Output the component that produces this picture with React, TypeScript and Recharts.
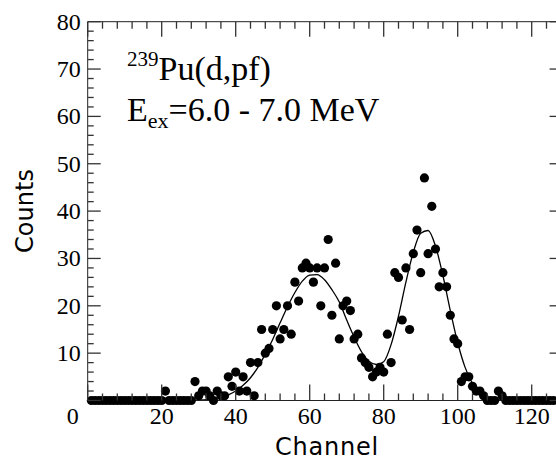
import React from "react"
import { ComposedChart, Scatter, Line, XAxis, YAxis } from "recharts"

// counts per channel, starting at channel 1
const counts = [
  0, 0, 0, 0, 0, 0, 0, 0, 0, 0,
  0, 0, 0, 0, 0, 0, 0, 0, 0, 0,
  2, 0, 0, 0, 0, 0, 0, 0, 4, 1,
  2, 2, 1, 0, 2, 1, 1, 5, 3, 6,
  2, 5, 2, 8, 1, 8, 15, 10, 11, 15,
  20, 13, 15, 20, 14, 25, 21, 28, 29, 28,
  25, 28, 20, 28, 34, 18, 29, 13, 20, 21,
  19, 13, 14, 9, 8, 7, 5, 6, 7, 6,
  14, 8, 27, 26, 17, 28, 15, 31, 36, 27,
  47, 31, 41, 32, 24, 27, 24, 18, 13, 12,
  4, 5, 5, 3, 2, 2, 1, 0, 0, 0,
  2, 1, 0, 0, 0, 0, 0, 0, 0, 0,
  0, 0, 0, 0, 0, 0,
]

// fitted curve
const fitChannels = [
  28, 30, 32, 34, 36, 38, 40, 42, 44, 46, 48, 50, 52, 54, 56, 58, 60, 62, 64, 66,
  68, 70, 72, 74, 76, 78, 80, 82, 84, 86, 88, 90, 92, 94, 96, 98, 100, 102, 104,
  106, 108, 110, 112, 114,
]
const fitValues = [
  0, 0.1, 0.2, 0.4, 0.7, 1.2, 2.0, 3.2, 4.8, 7.0, 9.8, 12.9, 16.4, 19.8, 22.8,
  25.2, 26.5, 26.6, 25.5, 23.4, 20.8, 17.0, 13.4, 10.3, 8.3, 7.6, 8.2, 11.8, 17.8,
  25.0, 31.3, 35.3, 35.9, 32.6, 26.4, 19.0, 12.2, 7.0, 3.6, 1.6, 0.7, 0.2, 0.1, 0,
]

const xTicks = [
  0, 4, 8, 12, 16, 20, 24, 28, 32, 36, 40, 44, 48, 52, 56, 60, 64, 68, 72, 76, 80,
  84, 88, 92, 96, 100, 104, 108, 112, 116, 120, 124,
]
const yTicks = [
  0, 2, 4, 6, 8, 10, 12, 14, 16, 18, 20, 22, 24, 26, 28, 30, 32, 34, 36, 38, 40,
  42, 44, 46, 48, 50, 52, 54, 56, 58, 60, 62, 64, 66, 68, 70, 72, 74, 76, 78, 80,
]

const points = counts.map((c, i) => ({ x: i + 1, y: c }))
const fit = fitChannels.map((x, i) => ({ x, y: fitValues[i] }))

const serif = "'Liberation Serif', 'Times New Roman', serif"
const sans = "'DejaVu Sans', sans-serif"
const tickColor = "#333"
const tickW = 1.3

const BottomTick = (props: any) => {
  const x = Number(props.x)
  const y = Number(props.y)
  const v = props.payload.value
  const major = v % 20 === 0
  return (
    <g>
      <line x1={x} x2={x} y1={y} y2={y - (major ? 16 : 7)} stroke={tickColor} strokeWidth={tickW} />
      {major && v !== 0 ? (
        <text x={x} y={y + 23} textAnchor="middle" fontFamily={serif} fontSize={24} fill="#000">
          {String(v)}
        </text>
      ) : null}
    </g>
  )
}

const TopTick = (props: any) => {
  const x = Number(props.x)
  const y = Number(props.y)
  const major = props.payload.value % 20 === 0
  return (
    <g>
      <line x1={x} x2={x} y1={y} y2={y + (major ? 15 : 7)} stroke={tickColor} strokeWidth={tickW} />
    </g>
  )
}

const LeftTick = (props: any) => {
  const x = Number(props.x)
  const y = Number(props.y)
  const v = props.payload.value
  const major = v % 10 === 0
  return (
    <g>
      <line x1={x} x2={x + (major ? 13 : 6)} y1={y} y2={y} stroke={tickColor} strokeWidth={tickW} />
      {major ? (
        <text
          x={x - (v === 0 ? 9 : 7)}
          y={y + (v === 0 ? 23 : 8)}
          textAnchor="end"
          fontFamily={serif}
          fontSize={24}
          fill="#000"
        >
          {String(v)}
        </text>
      ) : null}
    </g>
  )
}

const RightTick = (props: any) => {
  const x = Number(props.x)
  const y = Number(props.y)
  const major = props.payload.value % 10 === 0
  return (
    <g>
      {major ? <line x1={x} x2={x - 8} y1={y} y2={y} stroke={tickColor} strokeWidth={tickW} /> : null}
    </g>
  )
}

const Dot = (props: any) => <circle cx={props.cx} cy={props.cy} r={4.6} fill="#000" />
const NoDot = () => <g />

const textLine: React.CSSProperties = {
  position: "absolute",
  left: 127,
  fontFamily: serif,
  fontSize: 34,
  lineHeight: "34px",
  whiteSpace: "nowrap",
  color: "#000",
}

export default function App() {
  return (
    <div
      style={{
        position: "absolute",
        left: 0,
        top: 0,
        width: 556,
        height: 462,
        overflow: "hidden",
        background: "#fff",
      }}
    >
      <ComposedChart
        width={600}
        height={462}
        margin={{ top: 20.7, right: 41.4, bottom: 0, left: 0 }}
      >
        <XAxis
          dataKey="x"
          type="number"
          domain={[0, 127]}
          ticks={xTicks}
          interval={0}
          height={61.5}
          tickSize={0}
          tickMargin={0}
          stroke="#222"
          tick={BottomTick}
        />
        <XAxis
          xAxisId="top"
          dataKey="x"
          orientation="top"
          type="number"
          domain={[0, 127]}
          ticks={xTicks}
          interval={0}
          height={1}
          tickSize={0}
          tickMargin={0}
          stroke="#222"
          tick={TopTick}
        />
        <YAxis
          type="number"
          domain={[0, 80]}
          ticks={yTicks}
          interval={0}
          width={87.7}
          tickSize={0}
          tickMargin={0}
          stroke="#222"
          tick={LeftTick}
        />
        <YAxis
          yAxisId="right"
          orientation="right"
          type="number"
          domain={[0, 80]}
          ticks={yTicks}
          interval={0}
          width={1}
          tickSize={0}
          tickMargin={0}
          stroke="#222"
          tick={RightTick}
        />
        <Line
          data={fit}
          dataKey="y"
          type="monotone"
          stroke="#000"
          strokeWidth={1.3}
          dot={false}
          isAnimationActive={false}
        />
        <Scatter data={points} dataKey="y" shape={Dot} isAnimationActive={false} />
        <Scatter
          data={points}
          dataKey="y"
          xAxisId="top"
          yAxisId="right"
          shape={NoDot}
          isAnimationActive={false}
        />
      </ComposedChart>
      <div style={{ ...textLine, top: 51.5 }}>
        <span style={{ fontSize: 21, position: "relative", top: -14 }}>239</span>
        Pu(d,pf)
      </div>
      <div style={{ ...textLine, top: 92.5 }}>
        E<span style={{ fontSize: 22, position: "relative", top: 7 }}>ex</span>=6.0 - 7.0 MeV
      </div>
      <div
        style={{
          position: "absolute",
          left: 227,
          top: 434.7,
          width: 200,
          textAlign: "center",
          fontFamily: sans,
          fontSize: 24,
          lineHeight: "24px",
          letterSpacing: 0.8,
          color: "#000",
        }}
      >
        Channel
      </div>
      <div
        style={{
          position: "absolute",
          left: -75.3,
          top: 199,
          width: 200,
          height: 24,
          textAlign: "center",
          fontFamily: sans,
          fontSize: 24,
          lineHeight: "24px",
          color: "#000",
          transform: "rotate(-90deg)",
        }}
      >
        Counts
      </div>
    </div>
  )
}
